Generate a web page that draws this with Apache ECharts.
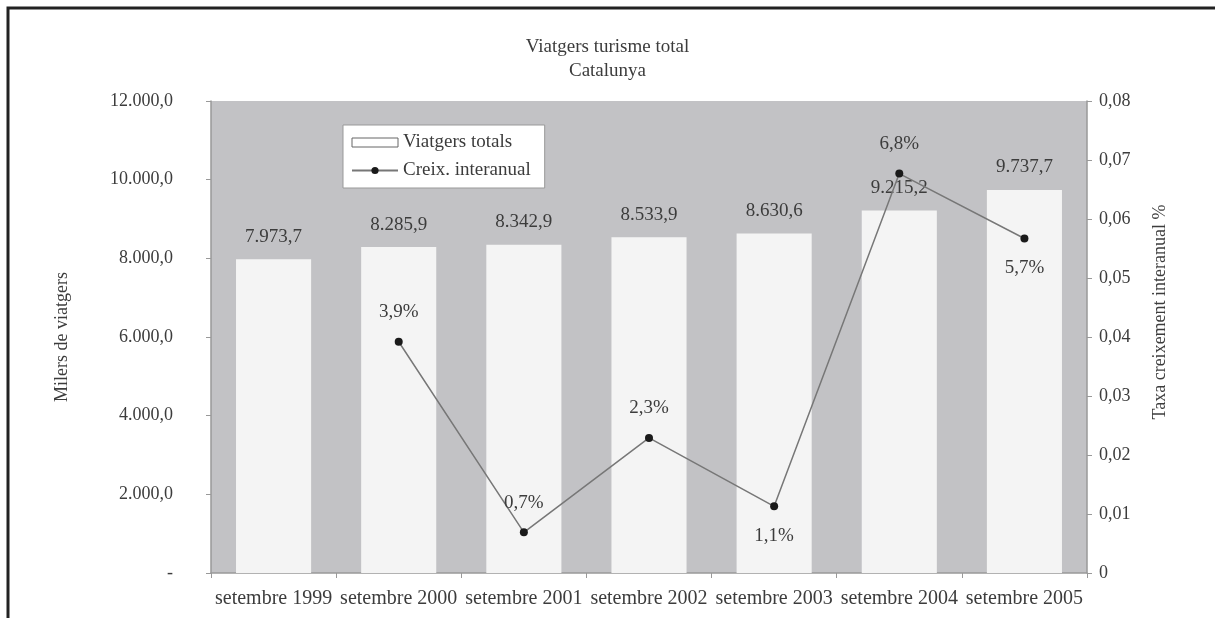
<!DOCTYPE html>
<html>
<head>
<meta charset="utf-8">
<style>
  html, body { margin: 0; padding: 0; background: #fff; }
  #chart { width: 1215px; height: 618px; }
</style>
<script src="https://cdn.jsdelivr.net/npm/echarts@6/dist/echarts.min.js"></script>
</head>
<body>
<div id="chart"></div>
<script>
const categories = ['setembre 1999', 'setembre 2000', 'setembre 2001', 'setembre 2002', 'setembre 2003', 'setembre 2004', 'setembre 2005']
const viatgersTotals = [7973.7, 8285.9, 8342.9, 8533.9, 8630.6, 9215.2, 9737.7]
const creixInteranual = [null, 0.0392, 0.0069, 0.0229, 0.0113, 0.0677, 0.0567]
const leftTicks = [0, 2000, 4000, 6000, 8000, 10000, 12000]
const rightTicks = [0, 0.01, 0.02, 0.03, 0.04, 0.05, 0.06, 0.07, 0.08]

const font = '"Liberation Serif", "DejaVu Serif", serif'
const textColor = '#3c3c3c'

// 7973.7 -> "7.973,7"
const fmtThousands = (v) => {
  const [int, dec] = v.toFixed(1).split('.')
  return int.replace(/\B(?=(\d{3})+(?!\d))/g, '.') + ',' + dec
}
const fmtPct = (v) => (v * 100).toFixed(1).replace('.', ',') + '%'

const labelsBelow = [4, 6]

const chart = echarts.init(document.getElementById('chart'))
chart.setOption({
  backgroundColor: '#fff',
  textStyle: { fontFamily: font, color: textColor },
  title: {
    text: 'Viatgers turisme total\nCatalunya',
    left: 'center',
    top: 30,
    textStyle: { fontFamily: font, fontSize: 19, fontWeight: 'normal', color: textColor, lineHeight: 24 },
  },
  graphic: [{
    type: 'polyline',
    shape: { points: [[8, 618], [8, 8], [1215, 8]] },
    style: { stroke: '#222', lineWidth: 3, fill: null },
  }],
  legend: {
    orient: 'vertical',
    left: 343,
    top: 125,
    padding: [8, 14, 8, 8],
    itemGap: 9,
    itemWidth: 46,
    itemHeight: 9,
    backgroundColor: '#fff',
    borderColor: '#999',
    borderWidth: 1,
    borderRadius: 0,
    textStyle: { fontFamily: font, fontSize: 19, color: textColor },
    data: [
      { name: 'Viatgers totals', icon: 'rect', itemStyle: { color: '#fff', borderColor: '#666', borderWidth: 1 } },
      { name: 'Creix. interanual' },
    ],
  },
  grid: {
    left: 211, right: 128, top: 101, bottom: 45,
    show: true, backgroundColor: '#c2c2c5', borderWidth: 0,
  },
  xAxis: {
    type: 'category',
    data: categories,
    axisLine: { lineStyle: { color: '#999', width: 1.5 } },
    axisTick: { show: true, length: 5, lineStyle: { color: '#999' } },
    axisLabel: { fontFamily: font, fontSize: 20, color: textColor, margin: 16, interval: 0 },
  },
  yAxis: [
    {
      type: 'value',
      min: leftTicks[0],
      max: leftTicks[leftTicks.length - 1],
      interval: 2000,
      name: 'Milers de viatgers',
      nameLocation: 'middle',
      nameGap: 140,
      nameTextStyle: { fontFamily: font, fontSize: 18, color: textColor },
      axisLine: { show: true, lineStyle: { color: '#999', width: 1.5 } },
      axisTick: { show: true, length: 5, lineStyle: { color: '#999' } },
      splitLine: { show: false },
      axisLabel: {
        fontFamily: font, fontSize: 18, color: textColor, margin: 38,
        formatter: (v) => (v === 0 ? '-' : fmtThousands(v)),
      },
    },
    {
      type: 'value',
      min: rightTicks[0],
      max: rightTicks[rightTicks.length - 1],
      interval: 0.01,
      position: 'right',
      name: 'Taxa creixement interanual %',
      nameLocation: 'middle',
      nameGap: 64,
      nameTextStyle: { fontFamily: font, fontSize: 18, color: textColor, padding: [0, 0, 0, 50] },
      axisLine: { show: true, lineStyle: { color: '#999', width: 1.5 } },
      axisTick: { show: true, length: 5, lineStyle: { color: '#999' } },
      splitLine: { show: false },
      axisLabel: {
        fontFamily: font, fontSize: 18, color: textColor, margin: 12,
        formatter: (v) => (v === 0 ? '0' : v.toFixed(2).replace('.', ',')),
      },
    },
  ],
  series: [
    {
      name: 'Viatgers totals',
      type: 'bar',
      yAxisIndex: 0,
      barWidth: '60%',
      data: viatgersTotals,
      itemStyle: { color: '#f4f4f4' },
      label: {
        show: true, position: 'top', distance: 13,
        fontFamily: font, fontSize: 19, color: textColor,
        formatter: (p) => fmtThousands(p.value),
      },
    },
    {
      name: 'Creix. interanual',
      type: 'line',
      yAxisIndex: 1,
      data: creixInteranual.map((v, i) => ({
        value: v,
        label: { position: labelsBelow.includes(i) ? 'bottom' : 'top' },
      })),
      symbol: 'circle',
      symbolSize: 8,
      lineStyle: { color: '#777', width: 1.5 },
      itemStyle: { color: '#1a1a1a' },
      label: {
        show: true, distance: 16,
        fontFamily: font, fontSize: 19, color: textColor,
        formatter: (p) => fmtPct(p.value),
      },
    },
  ],
})
</script>
</body>
</html>
